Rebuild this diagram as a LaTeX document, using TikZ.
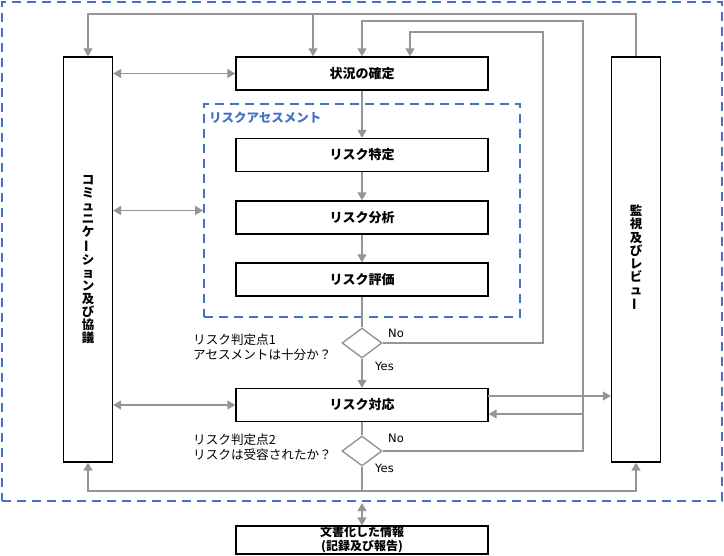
\documentclass[tikz,border=0pt]{standalone}
\usepackage{fontspec}
\setmainfont{Noto Sans CJK JP}
\newfontfamily\dvfont{DejaVu Sans}
\usetikzlibrary{arrows.meta,shapes.geometric}
\definecolor{dblue}{HTML}{4472C4}
\definecolor{lgray}{HTML}{959595}
\begin{document}
\begin{tikzpicture}[x=1pt,y=-1pt,
 box/.style={draw=black,line width=1.3pt,fill=white,minimum width=252pt,minimum height=33pt,inner sep=0pt,font=\bfseries\fontsize{13}{15}\selectfont},
 bar/.style={draw=black,line width=1.3pt,minimum width=49pt,minimum height=405pt,inner sep=0pt},
 con/.style={draw=lgray,line width=1.4pt},
 arr/.style={con,-{Triangle[length=8pt,width=9pt]}},
 darr/.style={con,{Triangle[length=8pt,width=9pt]}-{Triangle[length=8pt,width=9pt]}},
 dec/.style={diamond,draw=lgray,line width=1.4pt,fill=white,minimum width=40pt,minimum height=30pt,inner sep=0pt},
 lab/.style={font=\fontsize{12.6}{15}\selectfont,align=left,anchor=west,inner sep=0pt},
 yn/.style={font=\dvfont\fontsize{11.5}{13}\selectfont,anchor=west,inner sep=0pt},
 bdash/.style={draw=dblue,line width=2.2pt,dash pattern=on 9pt off 6pt},
 vtext/.style={font=\bfseries\fontsize{12.5}{13.1}\selectfont,align=center,inner sep=0pt}
]
\path[use as bounding box] (0,0) rectangle (724,556);
% frames
\node[bdash,minimum width=720pt,minimum height=499pt,inner sep=0pt] (frame) at (362,251.5) {};
\node[bdash,line width=2pt,minimum width=316pt,minimum height=213pt,inner sep=0pt] (assess) at (362,210.5) {};
\node[font=\bfseries\fontsize{12.5}{14}\selectfont,text=dblue,anchor=west,inner sep=0pt] (assesslab) at (209,118) {リスクアセスメント};
% bars
\node[bar] (comm) at (88,259.5) {};
\node[bar] (mon) at (636,259.5) {};
\node[vtext] (commlab) at (comm) {コ\\ミ\\ュ\\ニ\\ケ\\\rotatebox[origin=c]{90}{ー}\\シ\\ョ\\ン\\及\\び\\協\\議};
\node[vtext] (monlab) at (636,258) {監\\視\\及\\び\\レ\\ビ\\ュ\\\rotatebox[origin=c]{90}{ー}};
% boxes
\node[box] (ctx) at (362,73.5) {状況の確定};
\node[box] (ident) at (362,155) {リスク特定};
\node[box] (anal) at (362,217.5) {リスク分析};
\node[box] (eval) at (362,279.5) {リスク評価};
\node[dec] (d1) at (362,343) {};
\node[box] (treat) at (362,405) {リスク対応};
\node[dec] (d2) at (362,451) {};
\node[box,minimum height=28pt,font=\bfseries\fontsize{12}{14}\selectfont,align=center] (doc) at (362,540) {文書化した情報\\(記録及び報告)};
% labels
\node[lab] (q1) at (193,347.5) {リスク判定点1\\アセスメントは十分か？};
\node[lab] (q2) at (193,447.5) {リスク判定点2\\リスクは受容されたか？};
\node[yn] (no1) at (388,333) {No};
\node[yn] (yes1) at (375,366) {Yes};
\node[yn] (no2) at (388,438) {No};
\node[yn] (yes2) at (375,468) {Yes};
% coordinates
\coordinate (topR) at (636,14);
\coordinate (topL) at (88,14);
\coordinate (topM) at (313,14);
\coordinate (n2a) at (583,451);
\coordinate (n2b) at (583,21);
\coordinate (n2c) at (362,21);
\coordinate (n2t) at (583,414);
\coordinate (n1a) at (543,343);
\coordinate (n1b) at (543,32);
\coordinate (n1c) at (410,32);
\coordinate (tm) at (488,396);
\coordinate (bm) at (362,491);
\coordinate (bl) at (88,491);
\coordinate (br) at (636,491);
% connectors
\draw[arr] (mon.north) -- (topR) -- (topL) -- (comm.north);
\draw[arr] (topM) -- (ctx.north -| topM);
\draw[arr] (d2.east) -- (n2a) -- (n2b) -- (n2c) -- (ctx.north);
\draw[arr] (n2t) -- (treat.east |- n2t);
\draw[arr] (d1.east) -- (n1a) -- (n1b) -- (n1c) -- (ctx.north -| n1c);
\draw[arr] (tm) -- (mon.west |- tm);
\draw[darr] (comm.east |- ctx) -- (ctx.west);
\draw[darr] (comm.east |- assess.west) -- (assess.west);
\draw[darr] (comm.east |- treat) -- (treat.west);
\draw[arr] (ctx.south) -- (ident.north);
\draw[arr] (ident.south) -- (anal.north);
\draw[arr] (anal.south) -- (eval.north);
\draw[con] (eval.south) -- (d1.north);
\draw[arr] (d1.south) -- (treat.north);
\draw[con] (treat.south) -- (d2.north);
\draw[con] (d2.south) -- (bm);
\draw[arr] (bm) -- (bl) -- (comm.south);
\draw[arr] (bm) -- (br) -- (mon.south);
\draw[darr,shorten <=1pt] (frame.south) -- (doc.north);
\end{tikzpicture}
\end{document}
